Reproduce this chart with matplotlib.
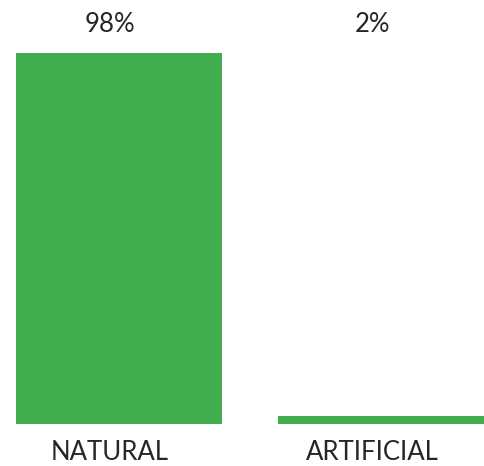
import numpy as np
import matplotlib.pyplot as plt

categories = ['NATURAL', 'ARTIFICIAL']
values = [98, 2]
labels = ['98%', '2%']

green = '#40ae4f'
plt.rcParams['font.family'] = ['Lato', 'DejaVu Sans']

fig = plt.figure(figsize=(4.84, 4.66), dpi=100)
ax = fig.add_axes([0, 0, 1, 1])

x = np.arange(len(categories))
ax.bar(x + 0.034, values, width=0.786, color=green)

for xi, v, lab, cat in zip(x, values, labels, categories):
    ax.text(xi, 105.6, lab, ha='center', va='center', fontsize=18.5, color='#262626')
    ax.text(xi, -7.6, cat, ha='center', va='center', fontsize=18.5, color='#262626')

ax.set_xlim(-0.42, 1.427)
ax.set_ylim(-11.09, 112.0)
ax.axis('off')

fig.savefig('out.png', dpi=100)
